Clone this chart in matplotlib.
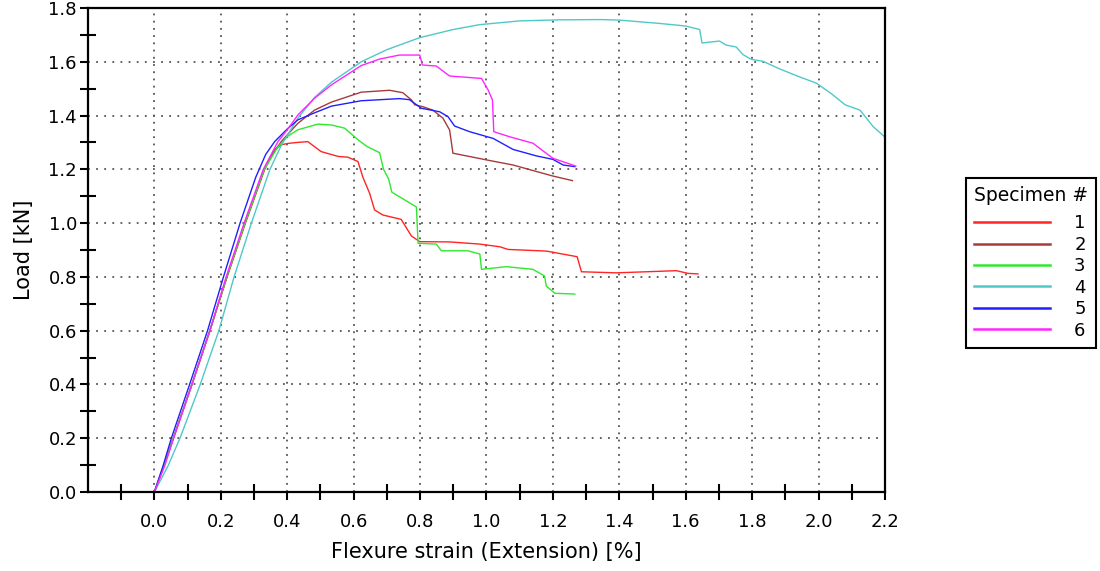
import numpy as np
import matplotlib
matplotlib.use("Agg")
import matplotlib.pyplot as plt
from matplotlib.ticker import FixedLocator, FormatStrFormatter

# specimen curves: strain [%] / load [kN]
x1 = [0, 0.014, 0.029, 0.057, 0.113, 0.167, 0.219, 0.274, 0.332, 0.362, 0.382, 0.40, 0.43, 0.462,
      0.477, 0.502, 0.553, 0.583, 0.613, 0.628, 0.648, 0.663, 0.688, 0.743, 0.774, 0.799, 0.889,
      0.979, 1.04, 1.065, 1.18, 1.273, 1.286, 1.391, 1.572, 1.607, 1.637]
y1 = [0, 0.048, 0.1, 0.2, 0.4, 0.6, 0.8, 1.0, 1.2, 1.274, 1.291, 1.296, 1.30, 1.303,
      1.289, 1.266, 1.248, 1.245, 1.229, 1.17, 1.111, 1.049, 1.03, 1.014, 0.952, 0.931, 0.93,
      0.922, 0.912, 0.902, 0.896, 0.875, 0.819, 0.815, 0.823, 0.813, 0.811]

x2 = [0, 0.014, 0.029, 0.057, 0.113, 0.167, 0.218, 0.273, 0.331, 0.358, 0.382, 0.40, 0.432, 0.482,
      0.533, 0.623, 0.66, 0.708, 0.748, 0.774, 0.784, 0.808, 0.839, 0.869, 0.889, 0.899, 1.0,
      1.08, 1.2, 1.259]
y2 = [0, 0.048, 0.1, 0.2, 0.4, 0.6, 0.8, 1.0, 1.2, 1.26, 1.303, 1.328, 1.371, 1.42,
      1.45, 1.487, 1.49, 1.494, 1.485, 1.458, 1.44, 1.433, 1.42, 1.39, 1.346, 1.26, 1.235,
      1.216, 1.175, 1.158]

x3 = [0, 0.014, 0.029, 0.057, 0.113, 0.167, 0.218, 0.273, 0.331, 0.37, 0.40, 0.432, 0.492, 0.533,
      0.573, 0.613, 0.64, 0.678, 0.69, 0.705, 0.715, 0.789, 0.794, 0.849, 0.864, 0.944, 0.98,
      0.985, 1.06, 1.14, 1.175, 1.18, 1.206, 1.266]
y3 = [0, 0.048, 0.1, 0.2, 0.4, 0.6, 0.8, 1.0, 1.2, 1.28, 1.322, 1.347, 1.368, 1.365,
      1.353, 1.31, 1.285, 1.262, 1.2, 1.165, 1.115, 1.06, 0.925, 0.922, 0.897, 0.897, 0.885,
      0.828, 0.838, 0.828, 0.803, 0.766, 0.739, 0.736]

x4 = [0, 0.02, 0.041, 0.077, 0.138, 0.194, 0.24, 0.292, 0.348, 0.382, 0.40, 0.432, 0.482, 0.533,
      0.623, 0.7, 0.8, 0.9, 0.979, 1.1, 1.222, 1.342, 1.4, 1.522, 1.6, 1.642, 1.649, 1.702,
      1.722, 1.752, 1.772, 1.797, 1.832, 1.882, 1.93, 1.994, 2.04, 2.08, 2.125, 2.165, 2.2]
y4 = [0, 0.047, 0.097, 0.2, 0.4, 0.6, 0.8, 1.0, 1.2, 1.289, 1.326, 1.39, 1.467, 1.524,
      1.6, 1.645, 1.69, 1.72, 1.738, 1.752, 1.756, 1.757, 1.755, 1.7425, 1.733, 1.72, 1.67, 1.677,
      1.662, 1.655, 1.627, 1.609, 1.602, 1.574, 1.55, 1.52, 1.48, 1.44, 1.42, 1.358, 1.32]

x5 = [0, 0.012, 0.026, 0.051, 0.106, 0.16, 0.208, 0.258, 0.305, 0.335, 0.362, 0.40, 0.432, 0.482,
      0.533, 0.623, 0.738, 0.768, 0.804, 0.859, 0.884, 0.904, 0.949, 1.02, 1.08, 1.15, 1.2,
      1.231, 1.266]
y5 = [0, 0.045, 0.097, 0.2, 0.4, 0.6, 0.8, 1.0, 1.17, 1.255, 1.303, 1.35, 1.384, 1.41,
      1.435, 1.455, 1.463, 1.459, 1.427, 1.414, 1.396, 1.361, 1.34, 1.315, 1.274, 1.25, 1.237,
      1.216, 1.21]

x6 = [0, 0.015, 0.031, 0.058, 0.113, 0.167, 0.216, 0.27, 0.328, 0.372, 0.40, 0.432, 0.482, 0.533,
      0.623, 0.678, 0.738, 0.799, 0.807, 0.849, 0.889, 0.985, 1.005, 1.018, 1.022, 1.07, 1.14,
      1.2, 1.269]
y6 = [0, 0.047, 0.097, 0.2, 0.4, 0.6, 0.8, 1.0, 1.2, 1.303, 1.347, 1.402, 1.464, 1.514,
      1.586, 1.61, 1.625, 1.625, 1.588, 1.584, 1.547, 1.538, 1.495, 1.458, 1.34, 1.321, 1.297,
      1.241, 1.212]

labels = ["1", "2", "3", "4", "5", "6"]
colors = ["#ff2525", "#a83a3a", "#2ee82e", "#50c8c8", "#2020ff", "#ff25ff"]
xs = [x1, x2, x3, x4, x5, x6]
ys = [y1, y2, y3, y4, y5, y6]

x_major = np.round(np.arange(0, 2.21, 0.2), 1)
x_minor = np.round(np.arange(-0.1, 2.2, 0.2), 1)
y_major = np.round(np.arange(0, 1.81, 0.2), 1)
y_minor = np.round(np.arange(0.1, 1.8, 0.2), 1)

fig = plt.figure(figsize=(11, 5.71), dpi=100)
ax = fig.add_axes([0.08, 0.1384, 0.7245, 0.8476])

for x, y, c, lab in zip(xs, ys, colors, labels):
    ax.plot(x, y, color=c, lw=1.0, label=lab)

ax.set_xlim(-0.2, 2.2)
ax.set_ylim(0, 1.8)

ax.xaxis.set_major_locator(FixedLocator(x_major))
ax.xaxis.set_minor_locator(FixedLocator(x_minor))
ax.yaxis.set_major_locator(FixedLocator(y_major))
ax.yaxis.set_minor_locator(FixedLocator(y_minor))
ax.xaxis.set_major_formatter(FormatStrFormatter("%.1f"))
ax.yaxis.set_major_formatter(FormatStrFormatter("%.1f"))

ax.tick_params(which="major", direction="out", length=6, width=1.5, labelsize=13,
               top=False, right=False)
ax.tick_params(axis="x", which="major", pad=9)
ax.tick_params(axis="y", which="major", pad=2)
ax.tick_params(which="minor", direction="inout", length=11, width=1.5, top=False, right=False)

for s in ax.spines.values():
    s.set_linewidth(1.6)
    s.set_color("black")

ax.grid(True, which="major", axis="y", color="#555555", lw=1.3, linestyle=(0, (1, 3.5)))
ax.grid(True, which="major", axis="x", color="#555555", lw=1.3, linestyle=(0, (1, 3)))

ax.set_xlabel("Flexure strain (Extension) [%]", fontsize=15, labelpad=8)
ax.set_ylabel("Load [kN]", fontsize=15, labelpad=10)

leg = fig.legend(loc="upper left", bbox_to_anchor=(0.878, 0.689), borderaxespad=0,
                 title="Specimen #", fontsize=13, title_fontsize=13.5, handlelength=4.2,
                 handletextpad=1.35, labelspacing=0.19, borderpad=0.45, fancybox=False,
                 framealpha=1, edgecolor="black")
leg.get_frame().set_linewidth(1.5)
leg._legend_box.align = "left"
leg._legend_box.sep = 7
for line in leg.get_lines():
    line.set_linewidth(1.8)

fig.savefig("out.png", dpi=100)
